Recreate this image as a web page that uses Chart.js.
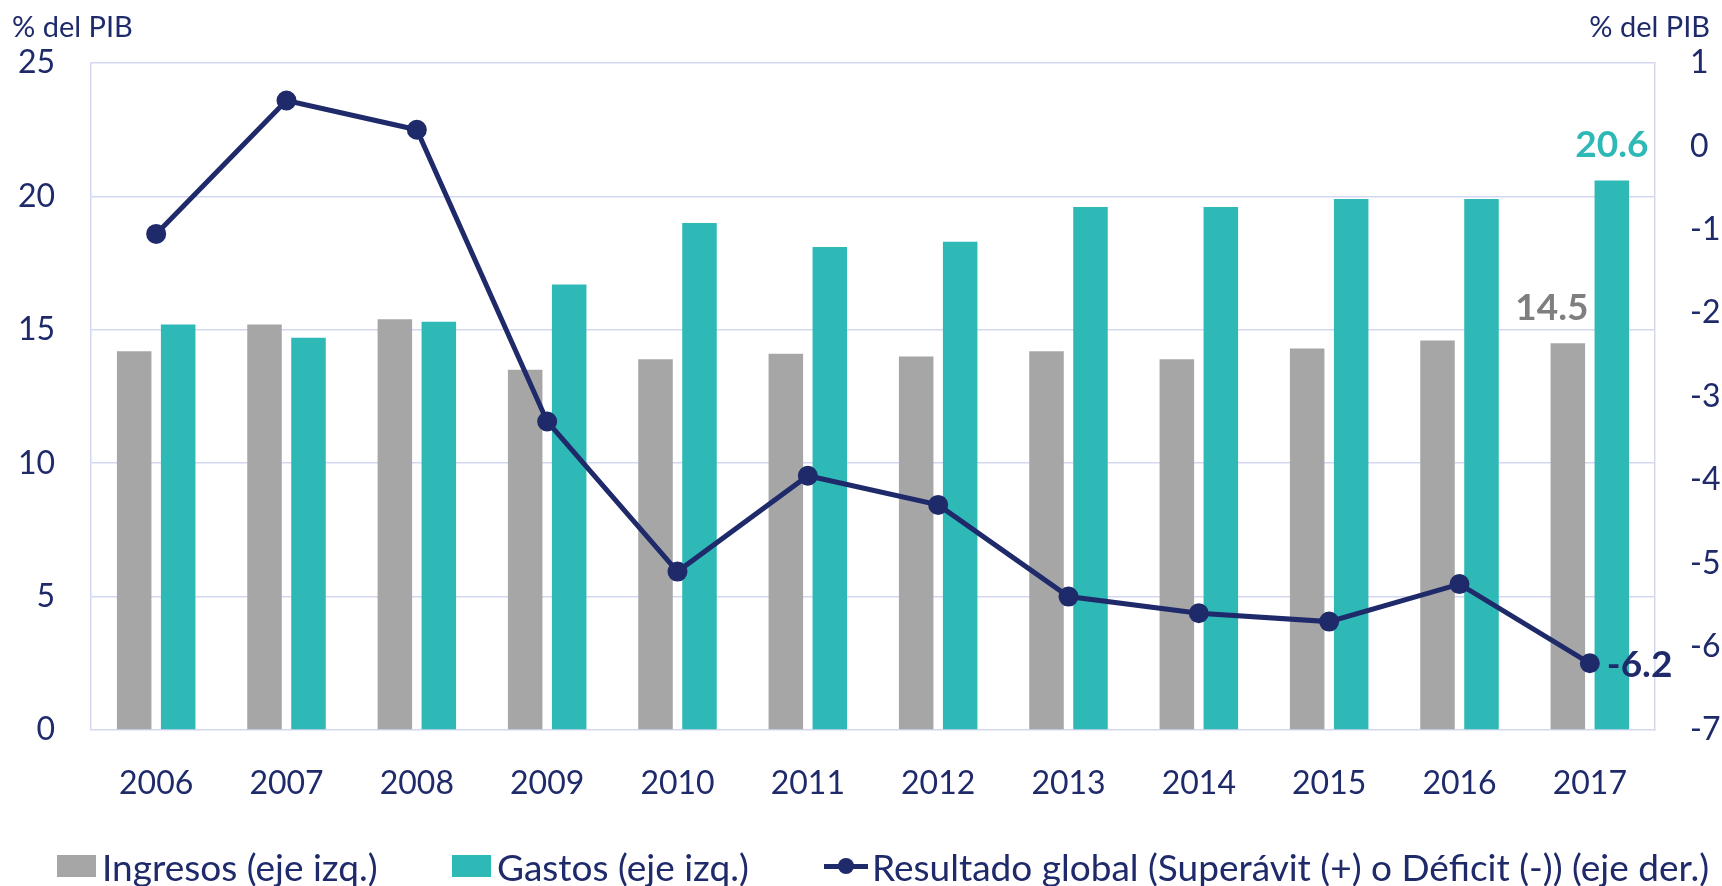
<!DOCTYPE html>
<html>
<head>
<meta charset="utf-8">
<script src="https://cdn.jsdelivr.net/npm/chart.js@4.4.1/dist/chart.umd.min.js"></script>
<style>
  html, body { margin: 0; padding: 0; background: #fff; }
  #wrap { position: relative; width: 1722px; height: 886px; }
  .leg { position: absolute; top: 845px; height: 42px; display: flex; align-items: center;
         font-family: Lato, sans-serif; font-size: 37px; color: #1f2a6b; white-space: nowrap; }
  .sw { display: inline-block; width: 39px; height: 22px; margin-right: 6px; }
  .ln { position: relative; width: 44px; height: 22px; margin-right: 4px; }
  .ln i { position: absolute; left: 0; right: 0; top: 9px; height: 5px; }
  .ln b { position: absolute; left: 14px; top: 3px; width: 16px; height: 16px; border-radius: 50%; }
</style>
</head>
<body>
<div id="wrap">
  <canvas id="myChart" width="1722" height="886"></canvas>
</div>
<script>
  var years = ["2006", "2007", "2008", "2009", "2010", "2011", "2012", "2013", "2014", "2015", "2016", "2017"];
  var ingresos = [14.2, 15.2, 15.4, 13.5, 13.9, 14.1, 14.0, 14.2, 13.9, 14.3, 14.6, 14.5];
  var gastos = [15.2, 14.7, 15.3, 16.7, 19.0, 18.1, 18.3, 19.6, 19.6, 19.9, 19.9, 20.6];
  var resultado = [-1.05, 0.55, 0.2, -3.3, -5.1, -3.95, -4.3, -5.4, -5.6, -5.7, -5.25, -6.2];

  var seriesNames = ["Ingresos (eje izq.)", "Gastos (eje izq.)", "Resultado global (Superávit (+) o Déficit (-)) (eje der.)"];
  var seriesColors = ["#a6a6a6", "#2eb9b6", "#1f2a6b"];
  var lastLabels = ["14.5", "20.6", "-6.2"];

  var navy = "#1f2a6b";
  var gridColor = "#d3d7f0";
  var font = "Lato";

  // axis titles + the three labels on the 2017 marks
  var extras = {
    id: "extras",
    afterDatasetsDraw: function (chart) {
      var ctx = chart.ctx;
      ctx.save();
      ctx.fillStyle = navy;
      ctx.font = "29px " + font;
      ctx.textBaseline = "alphabetic";
      ctx.textAlign = "left";
      ctx.fillText("% del PIB", 12, 37);
      ctx.textAlign = "right";
      ctx.fillText("% del PIB", 1710, 37);

      var n = years.length - 1;
      var g = chart.getDatasetMeta(0).data[n];
      var t = chart.getDatasetMeta(1).data[n];
      var p = chart.getDatasetMeta(2).data[n];
      ctx.font = "bold 37px " + font;
      ctx.textBaseline = "bottom";
      ctx.textAlign = "center";
      ctx.fillStyle = "#7f7f7f";
      ctx.fillText(lastLabels[0], g.x - 16, g.y - 17);
      ctx.fillStyle = seriesColors[1];
      ctx.fillText(lastLabels[1], t.x, t.y - 17);
      ctx.fillStyle = navy;
      ctx.textAlign = "left";
      ctx.textBaseline = "middle";
      ctx.fillText(lastLabels[2], p.x + 17, p.y + 2);
      ctx.restore();
    }
  };

  new Chart("myChart", {
    type: "bar",
    data: {
      labels: years,
      datasets: [{
        label: seriesNames[0],
        data: ingresos,
        backgroundColor: seriesColors[0],
        yAxisID: "y",
        order: 1,
        categoryPercentage: 0.675,
        barPercentage: 0.785
      }, {
        label: seriesNames[1],
        data: gastos,
        backgroundColor: seriesColors[1],
        yAxisID: "y",
        order: 2,
        categoryPercentage: 0.675,
        barPercentage: 0.785
      }, {
        type: "line",
        label: seriesNames[2],
        data: resultado,
        borderColor: seriesColors[2],
        backgroundColor: seriesColors[2],
        borderWidth: 5,
        pointRadius: 7.5,
        pointHoverRadius: 7.5,
        tension: 0,
        yAxisID: "y1",
        order: 0
      }]
    },
    options: {
      responsive: false,
      animation: false,
      layout: { padding: { top: 63, left: 0, right: 0, bottom: 86 } },
      plugins: {
        legend: { display: false },
        tooltip: { enabled: false }
      },
      scales: {
        x: {
          offset: true,
          grid: { display: false },
          border: { display: false },
          ticks: { color: navy, font: { family: font, size: 32 }, padding: 26, maxRotation: 0 },
          afterFit: function (s) { s.height = 70; }
        },
        y: {
          position: "left",
          min: 0,
          max: 25,
          ticks: { stepSize: 5, color: navy, font: { family: font, size: 32 }, padding: 36 },
          grid: { color: gridColor, lineWidth: 1.5, drawTicks: false },
          border: { color: gridColor, width: 1.5 },
          afterFit: function (s) { s.width = 91; }
        },
        y1: {
          position: "right",
          min: -7,
          max: 1,
          ticks: { stepSize: 1, color: navy, font: { family: font, size: 32 }, padding: 35 },
          grid: { display: false, drawTicks: false },
          border: { color: gridColor, width: 1.5 },
          afterFit: function (s) { s.width = 67; }
        }
      }
    },
    plugins: [extras]
  });

  // legend below the chart
  var legendX = [57, 452, 824];
  var wrap = document.getElementById("wrap");
  seriesNames.forEach(function (name, i) {
    var d = document.createElement("div");
    d.className = "leg";
    d.style.left = legendX[i] + "px";
    var sym;
    if (i < 2) {
      sym = document.createElement("span");
      sym.className = "sw";
      sym.style.background = seriesColors[i];
    } else {
      sym = document.createElement("span");
      sym.className = "ln";
      sym.innerHTML = '<i style="background:' + seriesColors[i] + '"></i><b style="background:' + seriesColors[i] + '"></b>';
    }
    d.appendChild(sym);
    d.appendChild(document.createTextNode(name));
    wrap.appendChild(d);
  });
</script>
</body>
</html>
